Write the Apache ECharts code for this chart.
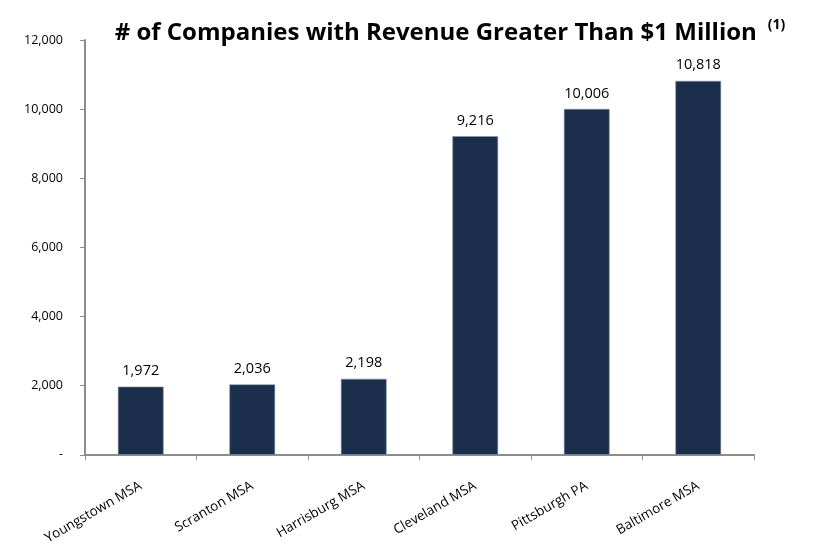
<!DOCTYPE html>
<html><head><meta charset="utf-8">
<script src="https://cdn.jsdelivr.net/npm/echarts@6/dist/echarts.min.js"></script>
<style>html,body{margin:0;padding:0;background:#fff}#c{width:817px;height:547px}</style>
</head><body><div id="c"></div>
<script>
const categories = ["Youngstown MSA","Scranton MSA","Harrisburg MSA","Cleveland MSA","Pittsburgh PA","Baltimore MSA"];
const values = [1972, 2036, 2198, 9216, 10006, 10818];
const titleText = "# of Companies with Revenue Greater Than $1 Million";
const titleNote = "(1)";
const FONT = "Open Sans";
const chart = echarts.init(document.getElementById('c'));
chart.setOption({
  animation: false,
  title: {
    text: "{m|" + titleText + "} {s|" + titleNote + "}",
    left: 445, top: 13, textAlign: 'center',
    textStyle: {
      rich: {
        m: {fontFamily: FONT, fontWeight: 'bold', fontSize: 24, color: '#000'},
        s: {fontFamily: FONT, fontWeight: 'bold', fontSize: 14, color: '#000', verticalAlign: 'top', padding: [0,0,16,6]}
      }
    }
  },
  grid: {left: 85, right: 63, top: 40, bottom: 92, containLabel: false},
  xAxis: {
    type: 'category', data: categories,
    axisLine: {lineStyle: {color: '#8c8c8c', width: 2}},
    axisTick: {show: true, alignWithLabel: false, length: 5, lineStyle: {color: '#8c8c8c', width: 1}},
    axisLabel: {rotate: 30, interval: 0, fontFamily: FONT, fontSize: 13.5, color: '#000', margin: 30}
  },
  yAxis: {
    type: 'value', min: 0, max: 12000, interval: 2000,
    splitLine: {show: false},
    axisLine: {show: true, lineStyle: {color: '#8c8c8c', width: 2}},
    axisTick: {show: true, length: 5, lineStyle: {color: '#8c8c8c'}},
    axisLabel: {fontFamily: FONT, fontSize: 12.5, color: '#000', margin: 22,
      formatter: v => v === 0 ? '-' : v.toLocaleString('en-US')}
  },
  series: [{
    type: 'bar', data: values, barWidth: '41%',
    itemStyle: {color: '#1b2e4b', borderColor: '#8a97a8', borderWidth: 0.6},
    label: {show: true, position: 'top', distance: 8, fontFamily: FONT, fontSize: 14.5, color: '#000',
      formatter: p => p.value.toLocaleString('en-US')}
  }]
});
</script></body></html>
